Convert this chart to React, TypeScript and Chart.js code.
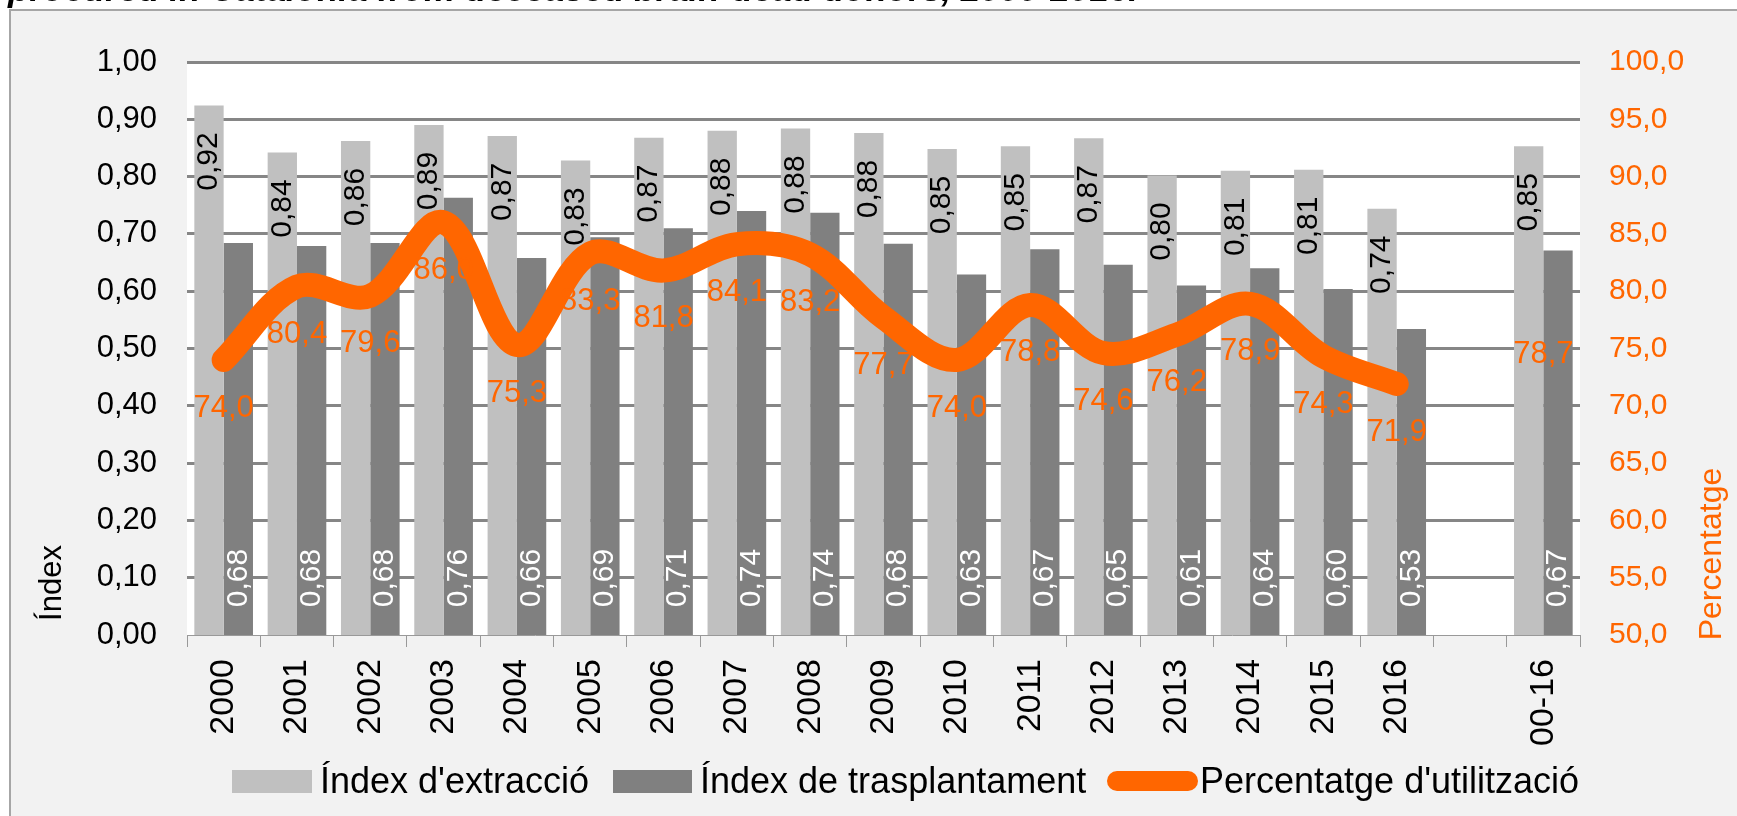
import React, { useEffect, useRef } from "react";
import { Chart, registerables } from "chart.js";

Chart.register(...registerables);

const categories = ["2000", "2001", "2002", "2003", "2004", "2005", "2006", "2007", "2008", "2009", "2010", "2011", "2012", "2013", "2014", "2015", "2016", "", "00-16"];
const extractionIndex = [0.924, 0.842, 0.862, 0.89, 0.871, 0.828, 0.868, 0.88, 0.884, 0.876, 0.848, 0.853, 0.867, 0.802, 0.81, 0.812, 0.744, null, 0.853];
const transplantIndex = [0.684, 0.679, 0.684, 0.763, 0.658, 0.694, 0.71, 0.74, 0.737, 0.683, 0.629, 0.673, 0.646, 0.61, 0.64, 0.604, 0.534, null, 0.671];
const utilisationPct = [74.0, 80.4, 79.6, 86.0, 75.3, 83.3, 81.8, 84.1, 83.2, 77.7, 74.0, 78.8, 74.6, 76.2, 78.9, 74.3, 71.9, null, 78.7];

const seriesNames = ["Índex d'extracció", "Índex de trasplantament", "Percentatge d'utilització"];
const leftAxisTitle = "Índex";
const rightAxisTitle = "Percentatge";
const titleText = "procured in Catalonia from deceased brain-dead donors, 2000-2016.";

const FONT = "'Liberation Sans', Arial, sans-serif";
const LIGHT = "#c0c0c0";
const DARK = "#808080";
const ORANGE = "#ff6600";
const W = 1737;
const H = 816;

const fmt2 = (v: number) => v.toFixed(2).replace(".", ",");
const fmt1 = (v: number) => v.toFixed(1).replace(".", ",");

const bgPlugin = {
  id: "bgPlugin",
  beforeDraw(chart: any) {
    const { ctx, chartArea: a, width, height } = chart;
    ctx.save();
    ctx.fillStyle = "#ffffff";
    ctx.fillRect(0, 0, width, height);
    ctx.fillStyle = "#f2f2f2";
    ctx.fillRect(10, 10, width - 10, height - 10);
    ctx.strokeStyle = "#a6a6a6";
    ctx.lineWidth = 2;
    ctx.beginPath();
    ctx.moveTo(10, height);
    ctx.lineTo(10, 10);
    ctx.lineTo(width, 10);
    ctx.stroke();
    ctx.fillStyle = "#ffffff";
    ctx.fillRect(a.left, a.top, a.right - a.left, a.bottom - a.top);
    ctx.restore();
  },
};

function rotText(ctx: CanvasRenderingContext2D, text: string, x: number, y: number) {
  ctx.save();
  ctx.translate(x, y);
  ctx.rotate(-Math.PI / 2);
  ctx.textAlign = "center";
  ctx.textBaseline = "middle";
  ctx.fillText(text, 0, 0);
  ctx.restore();
}

const labelPlugin = {
  id: "labelPlugin",
  afterDatasetsDraw(chart: any) {
    const ctx: CanvasRenderingContext2D = chart.ctx;
    const a = chart.chartArea;
    const light = chart.getDatasetMeta(0);
    const dark = chart.getDatasetMeta(1);
    const line = chart.getDatasetMeta(2);
    ctx.save();
    ctx.font = `30px ${FONT}`;
    ctx.fillStyle = "#000000";
    light.data.forEach((el: any, i: number) => {
      const v = extractionIndex[i];
      if (v == null) return;
      rotText(ctx, fmt2(v), el.x, el.y + 56);
    });
    ctx.fillStyle = "#ffffff";
    dark.data.forEach((el: any, i: number) => {
      const v = transplantIndex[i];
      if (v == null) return;
      rotText(ctx, fmt2(v), el.x, el.base - 57);
    });
    ctx.font = `31px ${FONT}`;
    ctx.fillStyle = ORANGE;
    ctx.textAlign = "center";
    ctx.textBaseline = "middle";
    line.data.forEach((el: any, i: number) => {
      const v = utilisationPct[i];
      if (v == null) return;
      ctx.fillText(fmt1(v), el.x, el.y + 48);
    });
    // axis titles
    ctx.font = `31px ${FONT}`;
    ctx.fillStyle = "#000000";
    rotText(ctx, leftAxisTitle, 52, a.bottom - 52);
    ctx.font = `32px ${FONT}`;
    ctx.fillStyle = ORANGE;
    rotText(ctx, rightAxisTitle, 1712, a.bottom - 81);
    ctx.restore();
  },
};

export default function App() {
  const ref = useRef<HTMLCanvasElement | null>(null);

  useEffect(() => {
    if (!ref.current) return;
    const chart = new Chart(ref.current, {
      type: "bar",
      data: {
        labels: categories,
        datasets: [
          {
            type: "bar",
            label: seriesNames[0],
            data: extractionIndex,
            backgroundColor: LIGHT,
            yAxisID: "y",
            order: 2,
            categoryPercentage: 0.8,
            barPercentage: 1.0,
          },
          {
            type: "bar",
            label: seriesNames[1],
            data: transplantIndex,
            backgroundColor: DARK,
            yAxisID: "y",
            order: 2,
            categoryPercentage: 0.8,
            barPercentage: 1.0,
          },
          {
            type: "line",
            label: seriesNames[2],
            data: utilisationPct,
            borderColor: ORANGE,
            backgroundColor: ORANGE,
            borderWidth: 24,
            borderCapStyle: "round",
            borderJoinStyle: "round",
            pointRadius: 0,
            tension: 0.35,
            spanGaps: false,
            yAxisID: "y1",
            order: 1,
          },
        ],
      } as any,
      options: {
        responsive: false,
        animation: false,
        devicePixelRatio: 1,
        layout: { padding: { left: 0, right: 0, top: 62, bottom: 0 } },
        plugins: {
          legend: { display: false },
          tooltip: { enabled: false },
          title: { display: false },
        },
        scales: {
          x: {
            type: "category",
            offset: true,
            grid: {
              display: true,
              offset: true,
              drawOnChartArea: false,
              drawTicks: true,
              tickLength: 12,
              color: "#999999",
              lineWidth: 1,
            },
            border: { display: true, color: "#999999", width: 1 },
            ticks: {
              autoSkip: false,
              maxRotation: 90,
              minRotation: 90,
              padding: 12,
              color: "#000000",
              font: { family: FONT, size: 34 },
            },
            afterFit: (s: any) => {
              s.height = 181;
            },
          },
          y: {
            type: "linear",
            position: "left",
            min: 0,
            max: 1,
            ticks: {
              stepSize: 0.1,
              padding: 30,
              color: "#000000",
              font: { family: FONT, size: 31 },
              callback: (v: any) => fmt2(Number(v)),
            },
            grid: {
              drawTicks: false,
              color: "#868686",
              lineWidth: (c: any) => (c.tick && Math.abs(c.tick.value) < 1e-9 ? 0 : 3),
            },
            border: { display: false },
            afterFit: (s: any) => {
              s.width = 187;
            },
          },
          y1: {
            type: "linear",
            position: "right",
            min: 50,
            max: 100,
            ticks: {
              stepSize: 5,
              padding: 29,
              color: ORANGE,
              font: { family: FONT, size: 30 },
              callback: (v: any) => fmt1(Number(v)),
            },
            grid: { display: false, drawTicks: false },
            border: { display: false },
            afterFit: (s: any) => {
              s.width = W - 1580;
            },
          },
        },
      } as any,
      plugins: [bgPlugin, labelPlugin],
    });
    return () => chart.destroy();
  }, []);

  const legendTop = 781;
  const legendItems = [
    { swatch: LIGHT, x: 232, w: 80, h: 23, textX: 320, text: seriesNames[0], line: false },
    { swatch: DARK, x: 613, w: 79, h: 23, textX: 700, text: seriesNames[1], line: false },
    { swatch: ORANGE, x: 1107, w: 91, h: 20, textX: 1200, text: seriesNames[2], line: true },
  ];

  return (
    <div style={{ position: "absolute", left: 0, top: 0, width: W, height: H, overflow: "hidden", background: "#fff" }}>
      <canvas ref={ref} width={W} height={H} style={{ position: "absolute", left: 0, top: 0, width: W, height: H }} />
      <div
        style={{
          position: "absolute",
          left: 8,
          top: -29,
          fontFamily: FONT,
          fontSize: 35,
          lineHeight: "35px",
          fontStyle: "italic",
          fontWeight: "bold",
          color: "#000",
          whiteSpace: "nowrap",
        }}
      >
        {titleText}
      </div>
      {legendItems.map((it, i) => (
        <React.Fragment key={i}>
          <div
            style={{
              position: "absolute",
              left: it.x,
              top: legendTop - it.h / 2,
              width: it.w,
              height: it.h,
              background: it.swatch,
              borderRadius: it.line ? it.h / 2 : 0,
            }}
          />
          <div
            style={{
              position: "absolute",
              left: it.textX,
              top: legendTop - 22,
              height: 44,
              lineHeight: "44px",
              fontFamily: FONT,
              fontSize: 36,
              color: "#000",
              whiteSpace: "nowrap",
            }}
          >
            {it.text}
          </div>
        </React.Fragment>
      ))}
    </div>
  );
}
